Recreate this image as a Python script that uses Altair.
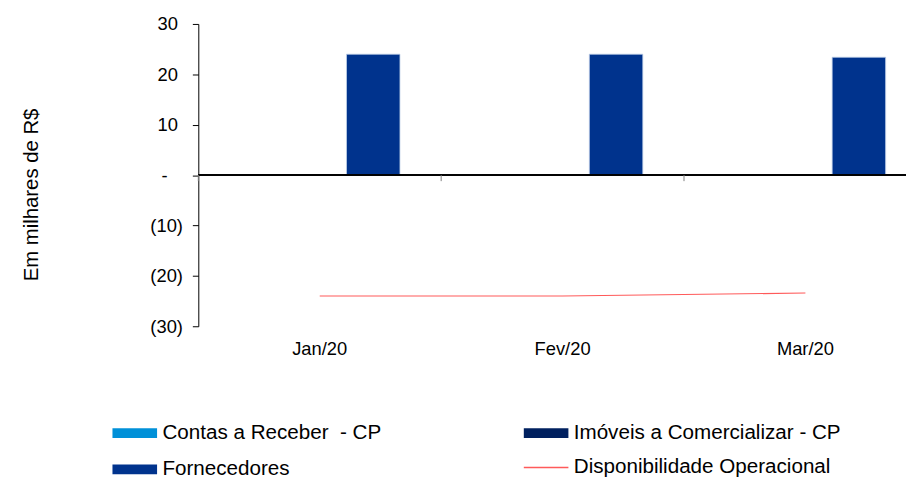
import altair as alt
import pandas as pd

months = ["Jan/20", "Fev/20", "Mar/20"]
bar_series = ["Contas a Receber\u00a0 - CP", "Imóveis a Comercializar - CP", "Fornecedores"]
contas = [0.0, 0.0, 0.0]
imoveis = [0.0, 0.0, 0.0]
fornecedores = [24.0, 24.0, 23.4]
line_series = "Disponibilidade Operacional"
disponibilidade = [-24.0, -24.0, -23.4]
bar_colors = ["#0090D8", "#00205F", "#00338D"]
line_color = "#FF5A5A"
y_ticks = [30, 20, 10, 0, -10, -20, -30]
legend_order = [bar_series[0], bar_series[2], bar_series[1]]

rows = []
for name, vals in zip(bar_series, [contas, imoveis, fornecedores]):
    for m, v in zip(months, vals):
        rows.append({"month": m, "series": name, "value": v})
bars_df = pd.DataFrame(rows)
line_df = pd.DataFrame({"month": months, "series": [line_series] * 3, "value": disponibilidade})
zero_df = pd.DataFrame({"month": months})

FONT = "Liberation Sans"
NB = "\u00a0"
ZW = "\u200b"

x_scale = alt.Scale(domain=months, range=[0, 735], paddingInner=0.339, paddingOuter=0.1695)
y_scale = alt.Scale(domain=[-30, 30], nice=False, zero=False)

x_axis = alt.Axis(title=None, domain=False, ticks=False, labelAngle=0, labelFont=FONT,
                  labelFontSize=18.5, labelColor="#000000", labelPadding=13, grid=False)
y_axis = alt.Axis(
    title="Em milhares de R$", titleFont=FONT, titleFontSize=20.5, titleFontWeight="normal",
    titleColor="#000000", titleAngle=-90, titleX=-168, titleY=172, titleAlign="center",
    titleBaseline="middle", values=y_ticks, grid=False, domainColor="#000000",
    tickColor="#000000", tickSize=6, labelFont=FONT, labelFontSize=18.5, labelColor="#000000",
    labelPadding=10,
    labelExpr=(f"datum.value > 0 ? datum.value + '{NB}{ZW}' : (datum.value < 0 ? "
               f"'(' + abs(datum.value) + ')' : '-{NB}{NB}{NB}{ZW}')"),
)

bar_symbol = "M-4.5,-1H4.5V1H-4.5Z"
line_symbol = "M-4.5,0H4.5"

bars = alt.Chart(bars_df).mark_bar(stroke="#C4D2EA", strokeWidth=0.8).encode(
    x=alt.X("month:N", sort=months, scale=x_scale, axis=x_axis),
    xOffset=alt.XOffset("series:N", sort=bar_series,
                        scale=alt.Scale(domain=bar_series, paddingInner=0, paddingOuter=0)),
    y=alt.Y("value:Q", scale=y_scale, axis=y_axis),
    color=alt.Color("series:N", sort=bar_series,
                    scale=alt.Scale(domain=bar_series, range=bar_colors),
                    legend=alt.Legend(title=None, orient="none", legendX=-74.5, legendY=402,
                                      values=legend_order, columns=2, columnPadding=142,
                                      rowPadding=15, symbolType=bar_symbol, symbolSize=100,
                                      symbolStrokeWidth=0, labelFont=FONT, labelFontSize=20.8,
                                      labelColor="#000000", labelOffset=17.5, labelLimit=400)),
)

zero_rule = alt.Chart(zero_df).mark_rule(color="#000000", strokeWidth=1.5).encode(
    y=alt.datum(0)
)

band_ticks = alt.Chart(zero_df).mark_rule(color="#808080", strokeWidth=1, xOffset=-41.5).encode(
    x=alt.X("month:N", sort=months, bandPosition=0),
    y=alt.datum(0),
    y2=alt.datum(-1.2),
)

line = alt.Chart(line_df).mark_line(strokeWidth=1.2).encode(
    x=alt.X("month:N", sort=months),
    y=alt.Y("value:Q"),
    stroke=alt.Stroke("series:N", scale=alt.Scale(domain=[line_series], range=[line_color]),
                      legend=alt.Legend(title=None, orient="none", legendX=340.5, legendY=437,
                                        symbolType=line_symbol, symbolSize=100,
                                        symbolStrokeWidth=1.5, labelFont=FONT,
                                        labelFontSize=20.8, labelColor="#000000",
                                        labelOffset=17.5, labelLimit=400)),
)

chart = alt.layer(bars, zero_rule, band_ticks, line).properties(
    width=714, height=305,
    autosize=alt.AutoSizeParams(type="none"),
    padding={"left": 192, "top": 14, "right": 0, "bottom": 151},
).configure_view(stroke=None).resolve_scale(color="independent", stroke="independent")

chart.save("out.html", embed_options={"renderer": "svg", "actions": False})
